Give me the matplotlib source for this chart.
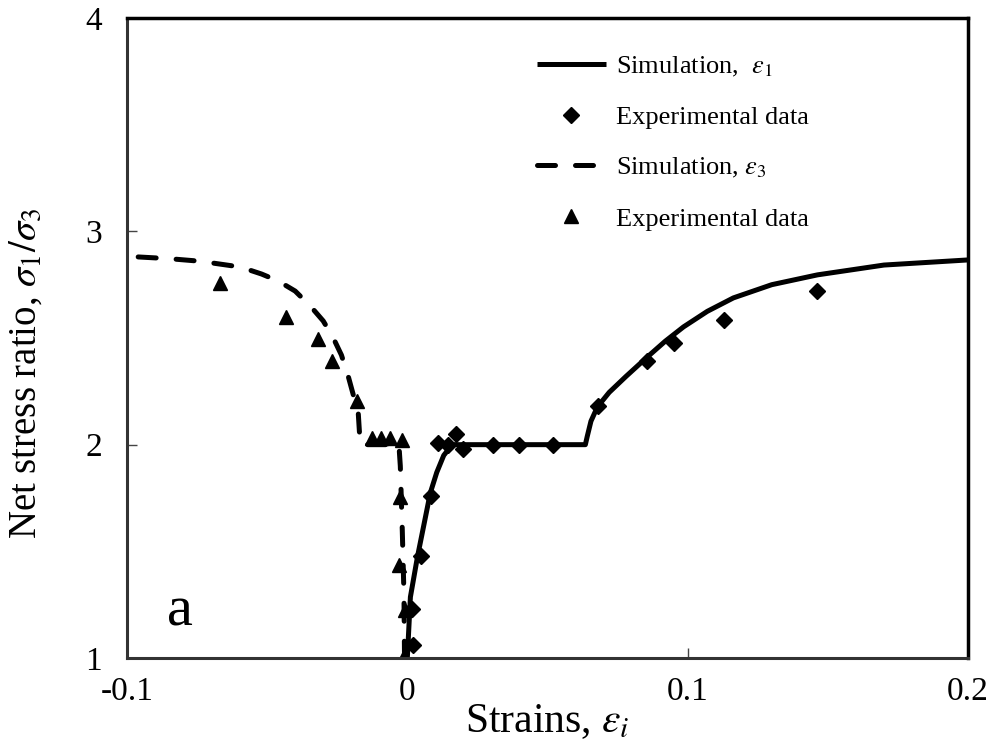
import numpy as np
import matplotlib
matplotlib.use("Agg")
import matplotlib.pyplot as plt

plt.rcParams['font.family'] = ['Liberation Serif', 'DejaVu Serif']
plt.rcParams['mathtext.fontset'] = 'stix'
plt.rcParams['axes.unicode_minus'] = False

# simulation, eps1 (solid)
sim1_x = [0.0, 0.0011, 0.0036, 0.0060, 0.0082, 0.0105, 0.0130, 0.0160,
          0.0635, 0.0642, 0.0655, 0.0678, 0.0720, 0.0780, 0.0856, 0.0920,
          0.0985, 0.1070, 0.1163, 0.1300, 0.1463, 0.1700, 0.2000]
sim1_y = [1.0, 1.286, 1.473, 1.63, 1.774, 1.87, 1.95, 2.0,
          2.0, 2.04, 2.11, 2.177, 2.245, 2.32, 2.411, 2.485,
          2.552, 2.625, 2.688, 2.75, 2.796, 2.842, 2.866]

# experimental, eps1 (diamonds)
exp1_x = [0.0021, 0.0018, 0.0050, 0.0086, 0.0110, 0.0146, 0.0175, 0.0200,
          0.0307, 0.0400, 0.0520, 0.0680, 0.0856, 0.0950, 0.1130, 0.1460]
exp1_y = [1.06, 1.23, 1.48, 1.76, 2.01, 2.00, 2.05, 1.98,
          2.00, 2.00, 2.00, 2.18, 2.39, 2.477, 2.585, 2.72]

# simulation, eps3 (dashed)
sim3_x = [-0.0960, -0.0850, -0.0740, -0.0596, -0.0520, -0.0460, -0.0400,
          -0.0346, -0.0300, -0.0264, -0.0235, -0.0210, -0.0175, -0.0168,
          -0.0030, -0.0025, -0.0018, -0.0012, -0.0010]
sim3_y = [2.88, 2.872, 2.86, 2.833, 2.80, 2.767, 2.72,
          2.65, 2.58, 2.50, 2.42, 2.317, 2.148, 2.0,
          2.0, 1.90, 1.60, 1.30, 1.0]

# experimental, eps3 (triangles)
exp3_x = [-0.0667, -0.0432, -0.0320, -0.0268, -0.0178, -0.0125, -0.0093,
          -0.0061, -0.0018, -0.0025, -0.0030, -0.0007, -0.0014]
exp3_y = [2.758, 2.60, 2.495, 2.392, 2.205, 2.03, 2.03,
          2.03, 2.02, 1.755, 1.436, 1.225, 1.0]

xticks = [-0.1, 0, 0.1, 0.2]
xticklabels = ['-0.1', '0', '0.1', '0.2']
yticks = [1, 2, 3, 4]

fig = plt.figure(figsize=(9.95, 7.45), dpi=100)
ax = fig.add_axes([0.1276, 0.1168, 0.8453, 0.859])

ax.plot(sim1_x, sim1_y, color='black', lw=3.6, solid_capstyle='butt',
        solid_joinstyle='round',
        label=r'Simulation,  $\varepsilon_{\mathit{1}}$')
ax.plot(exp1_x, exp1_y, ls='none', marker='D', ms=8.5, color='black',
        label='Experimental data')
ax.plot(sim3_x, sim3_y, color='black', lw=3.6, dashes=(3.6, 4.0),
        dash_capstyle='round', label=r'Simulation, $\varepsilon_{3}$')
ax.plot(exp3_x, exp3_y, ls='none', marker='^', ms=10, color='black',
        label='Experimental data')

ax.set_xlim(-0.1, 0.2)
ax.set_ylim(1, 4)
ax.set_xticks(xticks)
ax.set_xticklabels(xticklabels)
ax.set_yticks(yticks)
ax.tick_params(direction='in', length=7, width=1, labelsize=24, color='#444444')
ax.tick_params(axis='x', pad=13)
ax.tick_params(axis='y', pad=18)

for side in ['left', 'bottom']:
    ax.spines[side].set_linewidth(2.2)
    ax.spines[side].set_color('#333333')
for side in ['top', 'right']:
    ax.spines[side].set_linewidth(2.5)
    ax.spines[side].set_color('black')

ax.set_xlabel(r'Strains, $\varepsilon_{i}$', fontsize=30)
ax.xaxis.set_label_coords(0.5, -0.07)
ax.set_ylabel(r'Net stress ratio, $\sigma_{\mathit{1}}/\sigma_{3}$', fontsize=28)
ax.yaxis.set_label_coords(-0.098, 0.445)

ax.text(0.063, 0.072, 'a', transform=ax.transAxes, fontsize=42,
        ha='center', va='center')

ax.legend(loc='upper left', bbox_to_anchor=(0.4875, 0.943), frameon=False,
          fontsize=19, handlelength=2.6, handletextpad=0.4, labelspacing=1.02,
          borderpad=0, borderaxespad=0)

fig.savefig('out.png', dpi=100)
